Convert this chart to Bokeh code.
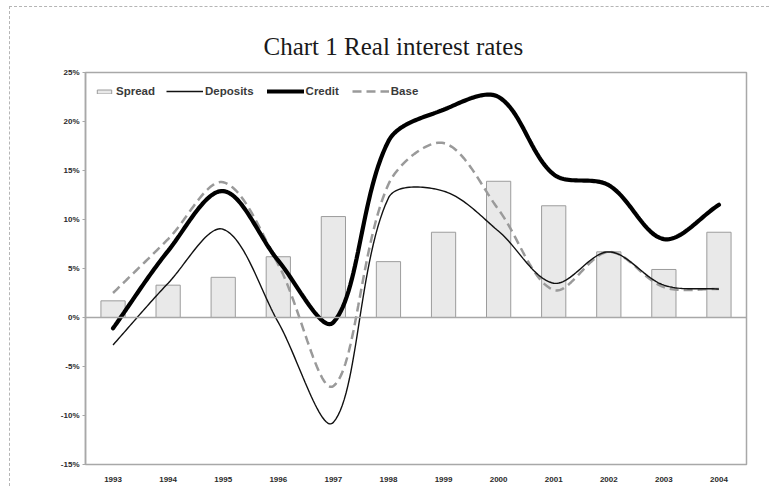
import numpy as np
from bokeh.plotting import figure
from bokeh.models import Range1d, FixedTicker, Span, Legend, LegendItem
from bokeh.embed import file_html
from bokeh.resources import INLINE

# ---- data (in %) ----
years = ["1993", "1994", "1995", "1996", "1997", "1998",
         "1999", "2000", "2001", "2002", "2003", "2004"]
spread = [1.7, 3.3, 4.1, 6.2, 10.3, 5.7, 8.7, 13.9, 11.4, 6.7, 4.9, 8.7]
deposits = [-2.8, 3.5, 9.0, -0.5, -10.7, 12.2, 12.9, 8.8, 3.5, 6.7, 3.3, 2.9]
credit = [-1.1, 6.8, 12.9, 5.8, -0.5, 18.0, 21.2, 22.5, 14.6, 13.5, 8.0, 11.5]
base = [2.5, 8.0, 13.8, 5.4, -7.0, 13.6, 17.8, 11.0, 2.8, 6.7, 3.1, 2.9]

y_ticks = [-15, -10, -5, 0, 5, 10, 15, 20, 25]
y_tick_labels = ["-15%", "-10%", "-5%", "0%", "5%", "10%", "15%", "20%", "25%"]

title_text = "Chart 1 Real interest rates"

n = len(years)
xpos = [i + 0.5 for i in range(n)]

# layout (pixels)
W, H = 760, 480
BL, BR, BT, BB = 75, 24, 65, 23
FW, FH = W - BL - BR, H - BT - BB
Y0, Y1 = -15, 25


def smooth(xs, ys, steps=30):
    """Excel-like smoothed line: cubic Bezier with chord-length weighted tangents."""
    sx_ = FW / n
    sy_ = FH / (Y1 - Y0)
    P = np.column_stack([np.asarray(xs, float) * sx_, np.asarray(ys, float) * sy_])
    m = len(P)
    t = np.linspace(0, 1, steps)[:, None]
    cin, cout = [None] * m, [None] * m
    for i in range(m):
        a = P[i - 1] if i > 0 else P[i]
        b = P[i + 1] if i < m - 1 else P[i]
        d0 = np.linalg.norm(P[i] - a)
        d1 = np.linalg.norm(b - P[i])
        T = b - a
        s = d0 + d1 if d0 + d1 > 0 else 1.0
        cout[i] = P[i] + T * (d1 / s) / 3.0
        cin[i] = P[i] - T * (d0 / s) / 3.0
    out = []
    for i in range(m - 1):
        p1, c1, c2, p2 = P[i], cout[i], cin[i + 1], P[i + 1]
        seg = ((1 - t) ** 3) * p1 + 3 * ((1 - t) ** 2) * t * c1 + 3 * (1 - t) * t ** 2 * c2 + t ** 3 * p2
        if i > 0:
            seg = seg[1:]
        out.append(seg)
    arr = np.vstack(out)
    return arr[:, 0] / sx_, arr[:, 1] / sy_


p = figure(width=W, height=H,
           x_range=Range1d(0, n), y_range=Range1d(Y0, Y1),
           output_backend="svg", toolbar_location=None,
           min_border_left=BL, min_border_right=BR,
           min_border_top=BT, min_border_bottom=BB)

p.styles = {"border-top": "1px dashed #b5b5b5", "border-left": "1px dashed #b5b5b5",
            "margin-left": "9px", "margin-top": "6px"}

p.title.text = title_text
p.title.align = "left"
p.title.offset = 178
p.title.text_font = "Liberation Serif"
p.title.text_font_size = "25px"
p.title.text_font_style = "normal"
p.title.text_color = "#1a1a1a"
p.title.standoff = 26

p.outline_line_color = "#a8a8a8"
p.outline_line_width = 1.5
p.xgrid.visible = False
p.ygrid.visible = False
p.background_fill_color = "white"
p.border_fill_color = "white"

# y axis
p.yaxis.ticker = FixedTicker(ticks=y_ticks)
p.yaxis.major_label_overrides = dict(zip(y_ticks, y_tick_labels))
p.yaxis.axis_line_color = "#a8a8a8"
p.yaxis.axis_line_width = 1.5
p.yaxis.major_tick_line_color = "#a8a8a8"
p.yaxis.major_tick_out = 3
p.yaxis.major_tick_in = 0
p.yaxis.minor_tick_line_color = None
p.yaxis.major_label_text_font = "Liberation Sans"
p.yaxis.major_label_text_font_size = "8px"
p.yaxis.major_label_text_font_style = "bold"
p.yaxis.major_label_text_color = "#2a2a2a"
p.yaxis.major_label_standoff = 3

# x axis
p.xaxis.ticker = FixedTicker(ticks=xpos)
p.xaxis.major_label_overrides = dict(zip(xpos, years))
p.xaxis.axis_line_color = None
p.xaxis.major_tick_line_color = None
p.xaxis.minor_tick_line_color = None
p.xaxis.major_label_text_font = "Liberation Sans"
p.xaxis.major_label_text_font_size = "8px"
p.xaxis.major_label_text_font_style = "bold"
p.xaxis.major_label_text_color = "#2a2a2a"
p.xaxis.major_label_standoff = 6

p.add_layout(Span(location=0, dimension="width", line_color="#a8a8a8", line_width=1.5))

bars = p.vbar(x=xpos, top=spread, bottom=0, width=0.44,
              fill_color="#e9e9e9", line_color="#9c9c9c", line_width=1)

dx, dy = smooth(xpos, deposits)
cx, cy = smooth(xpos, credit)
bx, by = smooth(xpos, base)

r_base = p.line(bx, by, line_color="#9a9a9a", line_width=2.5, line_dash="9 5")
r_dep = p.line(dx, dy, line_color="#111111", line_width=1.4)
r_cred = p.line(cx, cy, line_color="#000000", line_width=4.2, line_cap="round")

leg_y = FH - 25
common = dict(orientation="horizontal", padding=0, margin=0, border_line_color=None,
              background_fill_alpha=0, label_text_font="Liberation Sans",
              label_text_font_size="11.5px", label_text_font_style="bold",
              label_text_color="#3a3a3a")
leg1 = Legend(items=[LegendItem(label="Spread", renderers=[bars])],
              location=(10, leg_y), glyph_width=18, glyph_height=5,
              label_standoff=3, **common)
leg2 = Legend(items=[LegendItem(label="Deposits", renderers=[r_dep]),
                     LegendItem(label="Credit", renderers=[r_cred]),
                     LegendItem(label="Base", renderers=[r_base])],
              location=(81, leg_y), glyph_width=37, glyph_height=8,
              label_standoff=2, spacing=13, **common)
p.add_layout(leg1)
p.add_layout(leg2)

open("out.html", "w").write(file_html(p, INLINE))
